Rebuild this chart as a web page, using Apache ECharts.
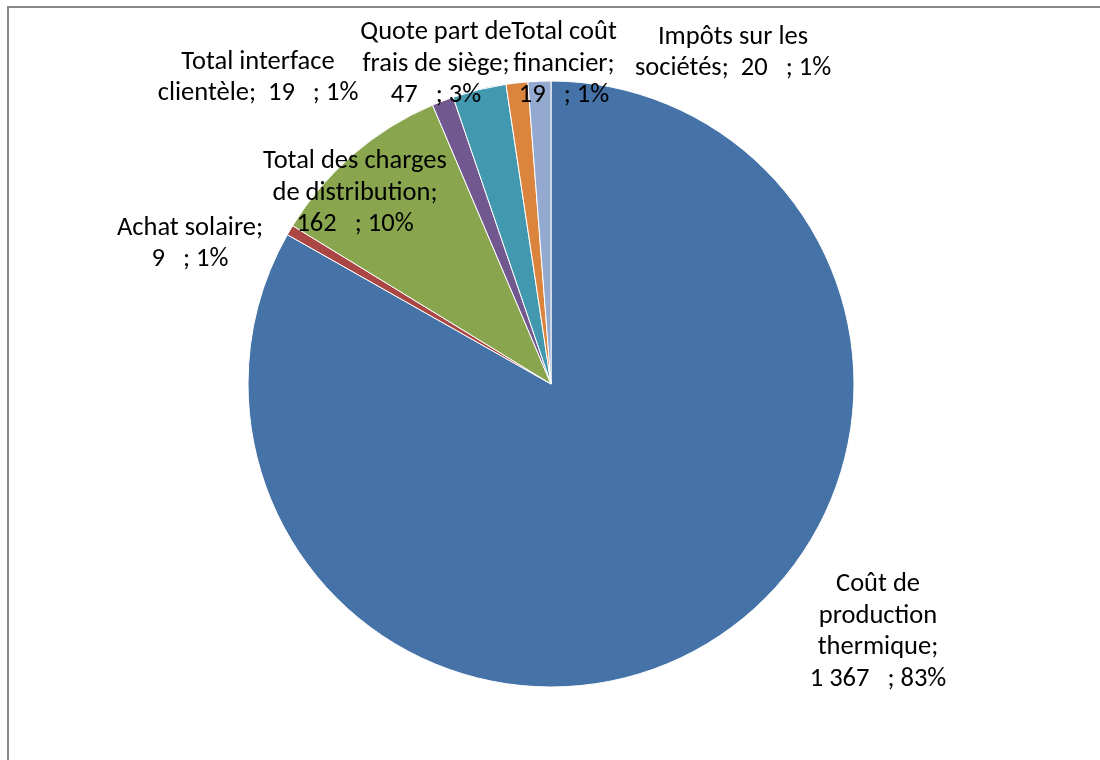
<!DOCTYPE html>
<html>
<head>
<meta charset="utf-8">
<script src="https://cdn.jsdelivr.net/npm/echarts@6/dist/echarts.min.js"></script>
<style>html,body{margin:0;padding:0;background:#fff;}#c{width:1100px;height:760px;}</style>
</head>
<body>
<div id="c"></div>
<script>
// ---- data ----
const categories = [
  "Coût de production thermique",
  "Achat solaire",
  "Total des charges de distribution",
  "Total interface clientèle",
  "Quote part de frais de siège",
  "Total coût financier",
  "Impôts sur les sociétés"
];
const values = [1367, 9, 162, 19, 47, 19, 20];
const colors = ["#4572A7", "#AA4643", "#89A54E", "#71588F", "#4198AF", "#DB843D", "#93A9CF"];

// ---- layout (label wrapping & placement, not data) ----
const lineBreaksAfter = [[1, 2, 3], [1], [2, 4], [1], [2, 5], [1, 2], [2]];
const labelPos = [[878, 632], [190, 244], [355, 193], [258, 78], [436, 64], [564, 64], [733, 53]];

const total = values.reduce((a, b) => a + b, 0);
function fmtNum(v) { return String(v).replace(/\B(?=(\d{3})+(?!\d))/g, " "); }
function labelText(i) {
  const words = categories[i].split(" ");
  words[words.length - 1] += ";";
  const tokens = words.concat([fmtNum(values[i]) + "   ; " + Math.round(values[i] / total * 100) + "%"]);
  const br = lineBreaksAfter[i];
  let s = "";
  tokens.forEach((t, k) => {
    if (k > 0) {
      if (br.indexOf(k - 1) >= 0) s += "\n";
      else s += (k === tokens.length - 1 ? "  " : " ");
    }
    s += t;
  });
  return s;
}

const chart = echarts.init(document.getElementById("c"));
chart.setOption({
  animation: false,
  backgroundColor: "#ffffff",
  graphic: [{
    type: "rect",
    shape: { x: 8, y: 7, width: 1120, height: 800 },
    style: { fill: "none", stroke: "#888888", lineWidth: 2 },
    silent: true
  }],
  series: [{
    type: "pie",
    center: [551, 384],
    radius: [0, 303],
    startAngle: 90,
    clockwise: true,
    avoidLabelOverlap: false,
    itemStyle: { borderColor: "#ffffff", borderWidth: 1 },
    label: {
      show: true,
      position: "outside",
      formatter: p => labelText(p.dataIndex),
      fontFamily: "Carlito, Lato, sans-serif",
      fontSize: 26.5,
      lineHeight: 31.5,
      color: "#000000",
      align: "center"
    },
    labelLine: { show: false },
    labelLayout: p => ({
      x: labelPos[p.dataIndex][0],
      y: labelPos[p.dataIndex][1],
      align: "center",
      verticalAlign: "middle"
    }),
    data: categories.map((n, i) => ({ name: n, value: values[i], itemStyle: { color: colors[i] } }))
  }]
});
</script>
</body>
</html>
